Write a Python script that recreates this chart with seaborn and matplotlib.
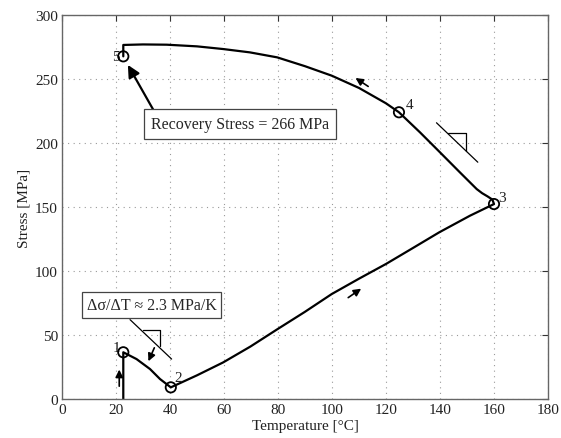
import matplotlib
matplotlib.use("Agg")
import matplotlib.pyplot as plt
import seaborn as sns
import pandas as pd

# Path of the stress-temperature curve
temperature = [22.7, 22.7, 27.6, 32.6, 36.3, 40.3, 50.0, 59.7, 69.8, 79.9, 89.9, 99.9,
               110.0, 120.0, 130.0, 139.7, 151.1, 160.0,
               159.4, 157.6, 155.6, 153.6, 150.5, 147.4, 140.0, 132.6,
               124.8, 120.0, 110.0, 99.9, 90.0, 79.7, 69.6, 59.7, 50.0, 38.8,
               30.0, 22.7, 22.7]
stress = [0.0, 36.5, 31.2, 23.4, 15.6, 9.1, 18.5, 28.6, 41.0, 54.7, 68.0, 82.0,
          94.0, 105.5, 118.0, 130.2, 143.2, 152.3,
          155.8, 158.3, 160.8, 164.0, 170.5, 177.0, 192.7, 208.3,
          224.0, 231.0, 243.0, 252.6, 260.0, 266.9, 270.8, 273.4, 275.5, 276.8,
          277.0, 276.6, 267.7]

# Numbered state points
point_labels = ["1", "2", "3", "4", "5"]
point_temp = [22.7, 40.3, 160.0, 124.8, 22.7]
point_stress = [36.5, 9.1, 152.3, 224.0, 267.7]

x_ticks = [0, 20, 40, 60, 80, 100, 120, 140, 160, 180]
y_ticks = [0, 50, 100, 150, 200, 250, 300]

sns.set_theme(style="white")
plt.rcParams["font.family"] = ["Liberation Serif", "DejaVu Serif"]

fig = plt.figure(figsize=(5.61, 4.39), dpi=100)
ax = fig.add_axes([62 / 561, 39 / 439, 486 / 561, 384 / 439])

df = pd.DataFrame({"T": temperature, "S": stress})
sns.lineplot(data=df, x="T", y="S", sort=False, ax=ax, color="black", lw=1.6,
             estimator=None)

pts = pd.DataFrame({"T": point_temp, "S": point_stress})
sns.scatterplot(data=pts, x="T", y="S", ax=ax, s=55, marker="o",
                facecolor="none", edgecolor="black", linewidth=1.3, zorder=5)

# point labels
offsets = {"1": (-1.2, 4.0, "right"), "2": (1.5, 7.5, "left"), "3": (1.6, 5.5, "left"),
           "4": (2.4, 6.0, "left"), "5": (-1.3, 0.0, "right")}
for lab, t, s in zip(point_labels, point_temp, point_stress):
    dx, dy, ha = offsets[lab]
    ax.text(t + dx, s + dy, lab, ha=ha, va="center", fontsize=11, color="#222222")

# Direction arrows
arrow_kw = dict(arrowstyle="-|>", color="black", lw=1.2, mutation_scale=11,
                shrinkA=0, shrinkB=0)
ax.annotate("", xy=(21.2, 23.0), xytext=(21.2, 10.0), arrowprops=arrow_kw)
ax.annotate("", xy=(32.0, 29.5), xytext=(34.2, 40.0), arrowprops=arrow_kw)
ax.annotate("", xy=(110.8, 86.2), xytext=(106.0, 79.2), arrowprops=arrow_kw)
ax.annotate("", xy=(108.7, 250.8), xytext=(113.4, 244.2), arrowprops=arrow_kw)

# Recovery stress annotation
ax.annotate("", xy=(24.4, 261.0), xytext=(33.8, 226.0),
            arrowprops=dict(arrowstyle="-|>", color="black", lw=1.6, mutation_scale=18,
                            shrinkA=0, shrinkB=0))
ax.text(66.0, 214.6, "Recovery Stress = 266 MPa", ha="center", va="center", fontsize=11.5,
        bbox=dict(boxstyle="square,pad=0.45", fc="white", ec="#444444", lw=0.9))

# Slope annotation near point 1
ax.text(33.2, 73.6, "Δσ/ΔT ≈ 2.3 MPa/K", ha="center", va="center",
        fontsize=11.5,
        bbox=dict(boxstyle="square,pad=0.3", fc="white", ec="#444444", lw=0.9))
ax.plot([25.2, 40.6], [62.0, 31.2], color="black", lw=0.9)
ax.plot([30.1, 36.3, 36.3], [54.1, 54.1, 41.2], color="black", lw=0.9)

# Slope triangle near point 3
ax.plot([138.7, 154.0], [215.8, 185.0], color="black", lw=0.9)
ax.plot([143.1, 149.5, 149.5], [207.6, 207.6, 193.6], color="black", lw=0.9)

ax.set_xlim(0, 180)
ax.set_ylim(0, 300)
ax.set_xticks(x_ticks)
ax.set_yticks(y_ticks)
ax.set_xlabel("Temperature [°C]", fontsize=11, labelpad=2)
ax.set_ylabel("Stress [MPa]", fontsize=11, labelpad=3)
ax.tick_params(direction="in", length=4, width=0.8, labelsize=11, colors="#333333",
               top=True, right=True, pad=3)
ax.tick_params(axis="both", labelcolor="#222222")
ax.grid(True, linestyle=(0, (1, 4)), color="#999999", lw=0.8)
for sp in ax.spines.values():
    sp.set_color("#666666")
    sp.set_linewidth(1.0)
ax.xaxis.label.set_color("#222222")
ax.yaxis.label.set_color("#222222")

fig.savefig("out.png", dpi=100)
